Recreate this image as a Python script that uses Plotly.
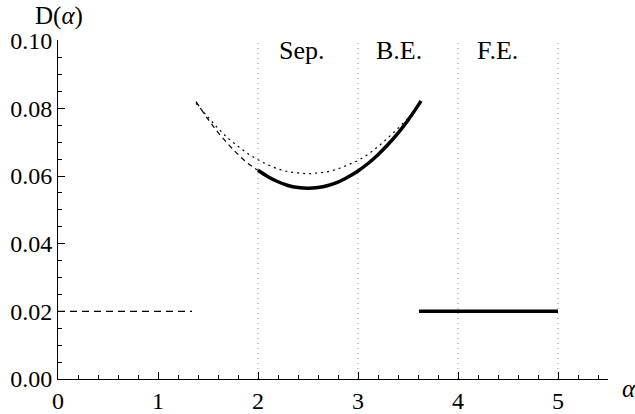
import plotly.graph_objects as go

# ---- data ----
solid_x = [2.0, 2.1, 2.2, 2.3, 2.4, 2.5, 2.6, 2.7, 2.8, 2.9, 3.0, 3.1, 3.2, 3.3, 3.4, 3.5, 3.6, 3.63]
solid_y = [0.0617, 0.0598, 0.0583, 0.0572, 0.0566, 0.0564, 0.0566, 0.0572, 0.0582, 0.0597,
           0.0615, 0.0637, 0.0663, 0.0693, 0.0727, 0.0765, 0.0808, 0.0822]
dash_x = [1.38, 1.5, 1.6, 1.7, 1.8, 1.9, 2.0]
dash_y = [0.0820, 0.0768, 0.0729, 0.0695, 0.0664, 0.0637, 0.0617]
dot_x = [1.38, 1.5, 1.6, 1.7, 1.8, 1.9, 2.0, 2.1, 2.2, 2.3, 2.4, 2.5, 2.6, 2.7, 2.8, 2.9,
         3.0, 3.1, 3.2, 3.3, 3.4, 3.5, 3.55]
dot_y = [0.0815, 0.0774, 0.0741, 0.0712, 0.0688, 0.0666, 0.0648, 0.0633, 0.0621, 0.0613,
         0.0609, 0.0607, 0.0609, 0.0613, 0.0621, 0.0633, 0.0646, 0.0664, 0.0687, 0.0713,
         0.0741, 0.0771, 0.0787]
low_dash_x = [0.0, 1.34]
low_dash_y = [0.02, 0.02]
low_solid_x = [3.61, 5.0]
low_solid_y = [0.02, 0.02]
boundaries = [2, 3, 4, 5]
region_labels = ["Sep.", "B.E.", "F.E."]
region_label_x = [2.44, 3.41, 4.39]
region_label_y = 0.097

FONT = "Liberation Serif"

fig = go.Figure()

for b in boundaries:
    fig.add_trace(go.Scatter(x=[b, b], y=[0, 0.1], mode="lines",
                             line=dict(color="#8a8a8a", width=1, dash="1px,4px"),
                             hoverinfo="skip", showlegend=False))

fig.add_trace(go.Scatter(x=dot_x, y=dot_y, mode="lines", line_shape="spline",
                         line=dict(color="black", width=1.2, dash="2px,4px"), showlegend=False))
fig.add_trace(go.Scatter(x=dash_x, y=dash_y, mode="lines", line_shape="spline",
                         line=dict(color="black", width=1.2, dash="5px,4px"), showlegend=False))
fig.add_trace(go.Scatter(x=solid_x, y=solid_y, mode="lines", line_shape="spline",
                         line=dict(color="black", width=3.5), showlegend=False))
fig.add_trace(go.Scatter(x=low_dash_x, y=low_dash_y, mode="lines",
                         line=dict(color="black", width=1.2, dash="7px,5px"), showlegend=False))
fig.add_trace(go.Scatter(x=low_solid_x, y=low_solid_y, mode="lines",
                         line=dict(color="black", width=3.5), showlegend=False))

for lbl, lx in zip(region_labels, region_label_x):
    fig.add_annotation(x=lx, y=region_label_y, text=lbl, showarrow=False,
                       font=dict(family=FONT, size=26, color="black"),
                       xanchor="center", yanchor="middle")

fig.add_annotation(xref="x", yref="paper", x=0, y=1, text="D(<i>α</i>)",
                   showarrow=False, xanchor="left", yanchor="middle", xshift=-25, yshift=24,
                   font=dict(family=FONT, size=25, color="black"))
fig.add_annotation(xref="paper", yref="paper", x=1, y=0, text="<i>α</i>",
                   showarrow=False, xanchor="center", yanchor="middle", xshift=21, yshift=-9,
                   font=dict(family=FONT, size=25, color="black"))

fig.update_layout(
    width=635, height=414,
    margin=dict(l=58, r=27, t=40, b=35),
    paper_bgcolor="white", plot_bgcolor="white",
    font=dict(family=FONT, size=24, color="black"),
    showlegend=False,
)
fig.update_xaxes(range=[0, 5.5], showgrid=False, zeroline=False, automargin=False,
                 showline=True, linecolor="black", linewidth=1,
                 tickmode="linear", tick0=0, dtick=1, ticks="inside", ticklen=7,
                 tickcolor="black", tickwidth=1,
                 minor=dict(tick0=0, dtick=0.2, ticks="inside", ticklen=4,
                            tickcolor="black", tickwidth=1, showgrid=False),
                 tickfont=dict(family=FONT, size=24, color="black"))
fig.update_yaxes(range=[0, 0.1002], showgrid=False, zeroline=False, automargin=False,
                 showline=True, linecolor="black", linewidth=1,
                 tickmode="linear", tick0=0, dtick=0.02, tickformat=".2f",
                 ticks="inside", ticklen=7, tickcolor="black", tickwidth=1,
                 minor=dict(tick0=0, dtick=0.005, ticks="inside", ticklen=4,
                            tickcolor="black", tickwidth=1, showgrid=False),
                 tickfont=dict(family=FONT, size=24, color="black"))

fig.write_html("out.html")
